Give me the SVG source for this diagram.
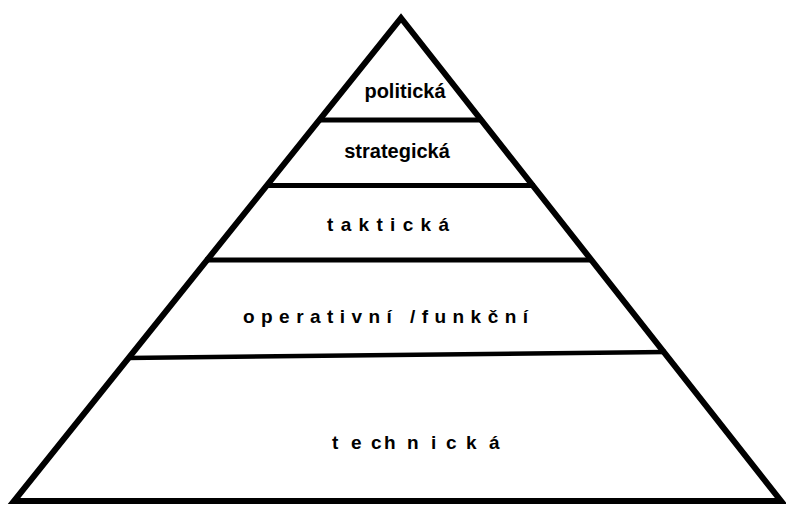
<svg xmlns="http://www.w3.org/2000/svg" width="786" height="505" viewBox="0 0 786 505">
<style>
.edge{stroke:#000;fill:none}
.lbl{font-family:"Liberation Sans",Arial,sans-serif;font-weight:bold;fill:#000}
</style>
<rect width="786" height="505" fill="#fff"/>
<g id="connectors">
<path class="edge" stroke-width="6" stroke-linejoin="miter" d="M401,18 L781,501 L14,501 Z"/>
<line class="edge" stroke-width="5" x1="318" y1="120" x2="483" y2="120"/>
<line class="edge" stroke-width="5" x1="265" y1="185.5" x2="535" y2="185.5"/>
<line class="edge" stroke-width="5" x1="205" y1="260" x2="593" y2="260"/>
<line class="edge" stroke-width="4.5" x1="127" y1="358" x2="666" y2="352"/>
</g>
<g id="politicka"><text class="lbl" x="405" y="98" font-size="20" text-anchor="middle">politická</text></g>
<g id="strategicka"><text class="lbl" x="397" y="158" font-size="20" text-anchor="middle">strategická</text></g>
<g id="takticka"><text class="lbl" x="327" y="231" font-size="19" textLength="122" lengthAdjust="spacing">taktická</text></g>
<g id="operativni"><text class="lbl" x="243" y="323" font-size="19" textLength="285" lengthAdjust="spacing">operativní /funkční</text></g>
<g id="technicka"><text class="lbl" font-size="19" y="449" x="332 351 371 384 407 431 446 466 489">technická</text></g>
</svg>
